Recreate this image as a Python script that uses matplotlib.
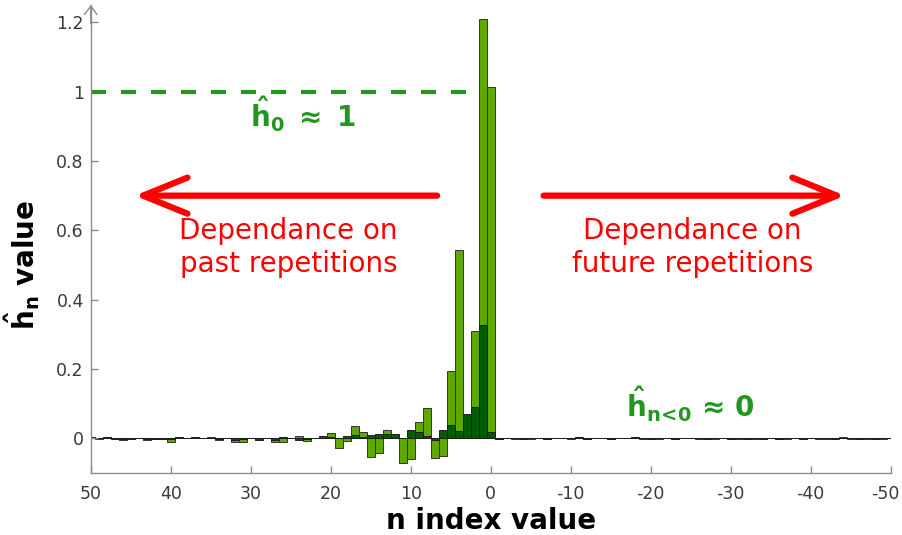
import matplotlib
matplotlib.use('Agg')
import matplotlib.pyplot as plt
import matplotlib.transforms as mtransforms
import numpy as np

plt.rcParams['mathtext.fontset'] = 'dejavusans'
plt.rcParams['axes.unicode_minus'] = False

# lag index n, from 50 down to -50
lags = list(range(50, -51, -1))

# full estimate (light green bars), n = 50 ... 0
h_light_past = [0.004, -0.002, 0.005, 0.001, -0.004, 0.000, 0.002, -0.004, -0.002, 0.001,
                -0.010, 0.004, 0.002, 0.004, 0.000, 0.003, -0.004, 0.001, -0.012, -0.012,
                0.002, -0.006, 0.001, -0.012, -0.012, 0.002, 0.007, -0.008, 0.002, 0.000,
                0.014, -0.029, -0.009, 0.035, 0.018, -0.053, -0.043, 0.025, 0.005, -0.070,
                -0.061, 0.046, 0.087, -0.058, -0.050, 0.195, 0.542, 0.030, 0.310, 1.210,
                1.012]
# n = -1 ... -50
h_light_future = [-0.002, 0.001, -0.002, 0.002, -0.001, 0.001, -0.003, 0.002, 0.000, -0.001,
                  0.003, -0.002, 0.001, 0.000, -0.003, 0.001, 0.002, 0.003, -0.001, 0.000,
                  -0.002, 0.001, -0.003, 0.002, 0.000, -0.001, 0.002, -0.002, 0.001, 0.000,
                  -0.001, 0.002, -0.002, 0.000, 0.001, -0.003, -0.002, 0.001, 0.000, 0.002,
                  -0.001, -0.002, 0.001, 0.003, -0.002, 0.000, -0.002, 0.001, -0.001, 0.000]

# second estimate (dark green bars), n = 50 ... 0
h_dark_past = [0.003, 0.001, 0.004, -0.002, -0.003, -0.001, 0.001, -0.003, -0.001, -0.002,
               -0.003, 0.003, 0.001, 0.004, 0.001, 0.000, -0.001, 0.002, -0.004, -0.003,
               0.001, -0.004, 0.002, -0.005, 0.003, 0.001, -0.005, -0.003, 0.002, 0.007,
               0.005, 0.000, 0.008, 0.009, 0.003, 0.009, 0.012, 0.012, 0.012, 0.002,
               0.025, 0.017, 0.008, -0.004, 0.024, 0.038, 0.020, 0.070, 0.089, 0.327,
               0.017]
# n = -1 ... -50
h_dark_future = [-0.001, 0.000, 0.001, -0.001, 0.000, 0.002, -0.001, 0.000, 0.001, 0.000,
                 0.004, -0.001, 0.000, 0.001, -0.002, 0.000, 0.001, 0.003, 0.000, -0.001,
                 0.000, 0.001, -0.001, 0.000, 0.000, 0.001, -0.001, 0.000, 0.001, -0.001,
                 0.000, -0.001, 0.000, -0.002, 0.000, -0.001, 0.001, 0.000, -0.001, 0.000,
                 0.000, 0.001, -0.001, 0.002, 0.001, -0.001, 0.000, -0.001, 0.000, 0.000]

h_light = h_light_past + h_light_future
h_dark = h_dark_past + h_dark_future

light_green = '#5fa800'
dark_green = '#005c00'
note_green = '#23961f'
axis_grey = '#8c8c8c'
label_grey = '#3a3a3a'

fig = plt.figure(figsize=(9.02, 5.35), dpi=100)
ax = fig.add_axes([0.1006, 0.1159, 0.8869, 0.8748])

ax.bar(lags, h_light, width=1, color=light_green, edgecolor='#353535', linewidth=0.7)
ax.bar(lags, h_dark, width=1, color=dark_green, edgecolor='#1e1e1e', linewidth=0.7)

ax.set_xlim(50, -50)
ax.set_ylim(-0.1, 1.25)

ax.spines['top'].set_visible(False)
ax.spines['right'].set_visible(False)
for s in ['left', 'bottom']:
    ax.spines[s].set_color(axis_grey)
    ax.spines[s].set_linewidth(1)

ax.set_xticks(range(50, -51, -10))
ax.set_yticks([0, 0.2, 0.4, 0.6, 0.8, 1.0, 1.2])
ax.set_yticklabels(['0', '0.2', '0.4', '0.6', '0.8', '1', '1.2'])
ax.tick_params(direction='in', length=5, width=1, color=axis_grey,
               labelcolor=label_grey, labelsize=12.5)
ax.tick_params(axis='x', pad=9)
ax.tick_params(axis='y', pad=5)

# keep the last x label inside the figure
last = ax.get_xticklabels()[-1]
last.set_transform(last.get_transform() +
                   mtransforms.ScaledTranslation(-5 / 100, 0, fig.dpi_scale_trans))

# arrow tip on top of the y axis
ax.annotate('', xy=(0, 1.0), xycoords='axes fraction', xytext=(0, 0.96),
            arrowprops=dict(arrowstyle='->,head_length=0.6,head_width=0.45',
                            color=axis_grey, lw=1, shrinkA=0, shrinkB=0,
                            mutation_scale=10),
            annotation_clip=False)

ax.set_xlabel('n index value', fontsize=20, fontweight='bold')
ax.xaxis.set_label_coords(0.5, -0.072)
ax.set_ylabel(r'$\mathbf{\hat{h}_n}$ value', fontsize=20, fontweight='bold')
ax.yaxis.set_label_coords(-0.061, 0.444)

# h0 ~ 1 reference
ax.plot([50, 1.5], [1, 1], linestyle=(0, (3.6, 3.6)), color=note_green, lw=3)
ax.text(23.5, 0.935, r'$\mathbf{\hat{h}_0\ \approx\ 1}$', color=note_green,
        fontsize=20, ha='center', va='center')
ax.text(-25, 0.1, r'$\mathbf{\hat{h}_{n\!<\!0}\,\approx\,0}$', color=note_green,
        fontsize=20, ha='center', va='center')

# direction arrows
arrow_kw = dict(arrowstyle='->,head_length=1.6,head_width=0.65', color='#ff0000',
                lw=4.5, shrinkA=0, shrinkB=0, mutation_scale=20)
ax.annotate('', xy=(44.5, 0.7), xytext=(6.7, 0.7), arrowprops=arrow_kw)
ax.annotate('', xy=(-44.3, 0.7), xytext=(-6.6, 0.7), arrowprops=arrow_kw)

ax.text(25.3, 0.55, 'Dependance on\npast repetitions', color='#ff0000',
        fontsize=20, ha='center', va='center', linespacing=1.2)
ax.text(-25.2, 0.55, 'Dependance on\nfuture repetitions', color='#ff0000',
        fontsize=20, ha='center', va='center', linespacing=1.2)

fig.savefig('out.png', dpi=100)
